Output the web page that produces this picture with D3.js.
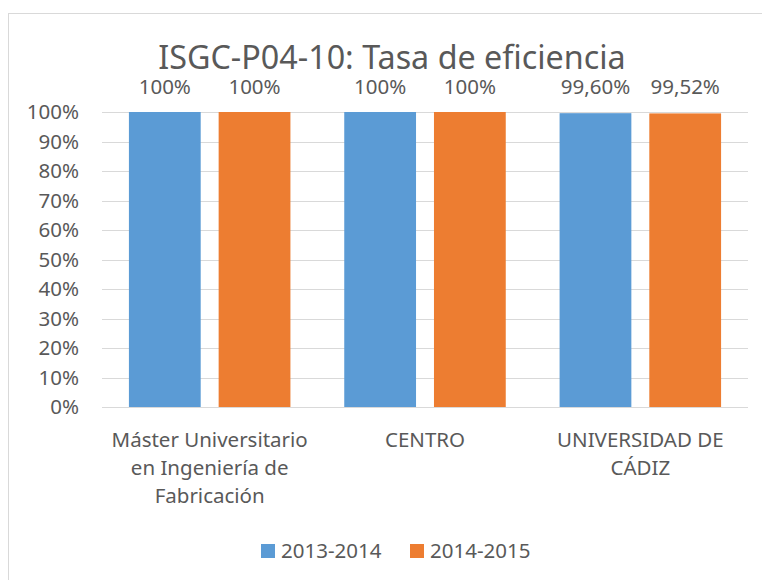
<!DOCTYPE html>
<meta charset="utf-8" />
<style>
  body { margin: 0; background: #fff; }
  svg text { font-family: "Noto Sans", "Open Sans", sans-serif; fill: #595959; }
  .grid line { stroke: #d9d9d9; shape-rendering: crispEdges; }
</style>
<svg width="762" height="580"></svg>
<script src="https://cdn.jsdelivr.net/npm/d3@7"></script>
<script>
  // chart data
  var title = "ISGC-P04-10: Tasa de eficiencia";
  var categories = ["Máster Universitario\nen Ingeniería de\nFabricación", "CENTRO", "UNIVERSIDAD DE\nCÁDIZ"];
  var seriesNames = ["2013-2014", "2014-2015"];
  var values2013 = [1, 1, 0.996];
  var values2014 = [1, 1, 0.9952];
  var colors = ["#5b9bd5", "#ed7d31"];

  var svg = d3.select("svg");
  var es = d3.formatLocale({ decimal: ",", thousands: ".", grouping: [3], currency: ["", "€"] });
  function labelFmt(v) {
    return v === 1 ? es.format(".0%")(v) : es.format(".2%")(v);
  }

  // chart frame
  svg.append("rect")
    .attr("x", 8.5).attr("y", 13.5)
    .attr("width", 790).attr("height", 600)
    .attr("fill", "none").attr("stroke", "#d9d9d9");

  var plotL = 102, plotR = 748, plotT = 112, plotB = 407;

  var x = d3.scaleBand().domain(categories).range([plotL, plotR]).paddingInner(0).paddingOuter(0);
  var xs = d3.scaleBand().domain(seriesNames).range([0, x.bandwidth()]).paddingInner(0.2).paddingOuter(0.3);
  var y = d3.scaleLinear().domain([0, 1]).range([plotB, plotT]);

  // gridlines
  var ticks = d3.range(0, 11).map(function(i) { return i / 10; });
  svg.append("g").attr("class", "grid")
    .selectAll("line").data(ticks).enter().append("line")
    .attr("x1", plotL).attr("x2", plotR)
    .attr("y1", function(d) { return Math.round(y(d)) + 0.5; })
    .attr("y2", function(d) { return Math.round(y(d)) + 0.5; });

  // y axis labels
  var yAxis = d3.axisLeft(y).tickValues(ticks).tickFormat(d3.format(".0%")).tickSize(0).tickPadding(0);
  var ya = svg.append("g").attr("transform", "translate(" + 79 + ",0)").call(yAxis);
  ya.select(".domain").remove();
  ya.selectAll("text").attr("font-size", 20.5).attr("font-family", null).attr("fill", null);

  // bars
  var series = [values2013, values2014];
  series.forEach(function(vals, si) {
    var g = svg.append("g");
    g.selectAll("rect").data(vals).enter().append("rect")
      .attr("x", function(d, i) { return x(categories[i]) + xs(seriesNames[si]); })
      .attr("width", xs.bandwidth())
      .attr("y", function(d) { return y(d); })
      .attr("height", function(d) { return y(0) - y(d); })
      .attr("fill", colors[si]);
    g.selectAll("text").data(vals).enter().append("text")
      .attr("x", function(d, i) { return x(categories[i]) + xs(seriesNames[si]) + xs.bandwidth() / 2; })
      .attr("y", 94)
      .attr("text-anchor", "middle")
      .attr("font-size", 20.5)
      .text(labelFmt);
  });

  // category labels
  var cat = svg.append("g").selectAll("text").data(categories).enter().append("text")
    .attr("text-anchor", "middle")
    .attr("font-size", 20.5)
    .attr("x", function(d) { return x(d) + x.bandwidth() / 2; });
  cat.selectAll("tspan").data(function(d) { return d.split("\n"); }).enter().append("tspan")
    .attr("x", function() { return d3.select(this.parentNode).attr("x"); })
    .attr("y", function(d, i) { return 447 + i * 28; })
    .text(function(d) { return d; });

  // title
  svg.append("text")
    .attr("x", 392).attr("y", 69)
    .attr("text-anchor", "middle")
    .attr("font-size", 32.3)
    .text(title);

  // legend
  var legX = [261, 410];
  var leg = svg.append("g").selectAll("g").data(seriesNames).enter().append("g")
    .attr("transform", function(d, i) { return "translate(" + legX[i] + ",544)"; });
  leg.append("rect").attr("width", 14).attr("height", 14)
    .attr("fill", function(d, i) { return colors[i]; });
  leg.append("text").attr("x", 20).attr("y", 14).attr("font-size", 20.5)
    .text(function(d) { return d; });
</script>
